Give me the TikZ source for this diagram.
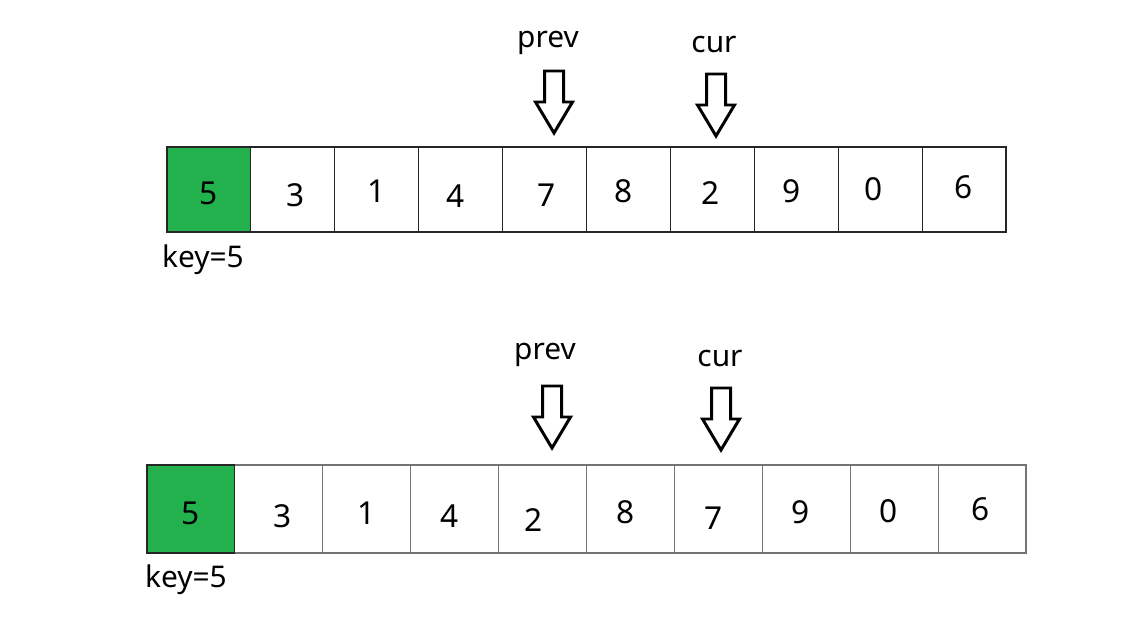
\documentclass[tikz,border=0pt]{standalone}
\usepackage{fontspec}
\setmainfont{Noto Sans}
\definecolor{keygreen}{HTML}{22B14C}

\begin{document}
\begin{tikzpicture}[x=0.02cm, y=-0.02cm,
  cell/.style={draw=black!85, line width=0.6pt, minimum width=1.678cm, minimum height=1.70cm, inner sep=0pt, outer sep=0pt},
  lowcell/.style={cell, draw=black!55, minimum width=1.758cm, minimum height=1.76cm},
  digit/.style={font=\fontsize{18}{20}\selectfont, inner sep=0pt},
  tag/.style={font=\fontsize{17}{20}\selectfont, inner sep=0pt},
  pics/pointer/.style={code={
    \draw[line width=1.7pt, line join=miter] (-9.5,0) -- (9.5,0) -- (9.5,31) -- (18.5,31) -- (0,62) -- (-18.5,31) -- (-9.5,31) -- cycle;}}]
  \useasboundingbox (0,0) rectangle (1138,638);

  % array before the swap
  \foreach \i in {1,...,10}
    \node[cell] (top\i) at ({167+83.9*(\i-1)+41.95},189.5) {};
  \fill[keygreen] (top1.north west) rectangle (top1.south east);
  \draw[black!85, line width=0.6pt] (top1.north west) rectangle (top1.south east);
  \foreach \v/\x/\y [count=\i] in {5/209/193,3/296/195,1/377/191,4/456/196,7/547/195,
                                    8/624/191,2/711/193,9/792/191,0/874/189,6/964/187}
    \node[digit] (tv\i) at (\x,\y) {\v};
  \node[tag] (tkey) at (203,260) {key=5};
  \node[tag] (tprev) at (548,43) {prev};
  \node[tag] (tcur) at (714,45) {cur};
  \pic at (554,71) {pointer};
  \pic at (716,74) {pointer};

  % array after the swap
  \foreach \i in {1,...,10}
    \node[lowcell] (low\i) at ({147+87.9*(\i-1)+43.95},509) {};
  \fill[keygreen] (low1.north west) rectangle (low1.south east);
  \draw[black!85, line width=0.6pt] (low1.north west) rectangle (low1.south east);
  \foreach \v/\x/\y [count=\i] in {5/191/513,3/283/516,1/367/513,4/450/516,2/534/520,
                                    8/626/512,7/714/518,9/801/512,0/889/511,6/981/509}
    \node[digit] (lv\i) at (\x,\y) {\v};
  \node[tag] (lkey) at (186,580) {key=5};
  \node[tag] (lprev) at (545,355) {prev};
  \node[tag] (lcur) at (720,358) {cur};
  \pic at (552,386) {pointer};
  \pic at (721,388) {pointer};
\end{tikzpicture}
\end{document}
